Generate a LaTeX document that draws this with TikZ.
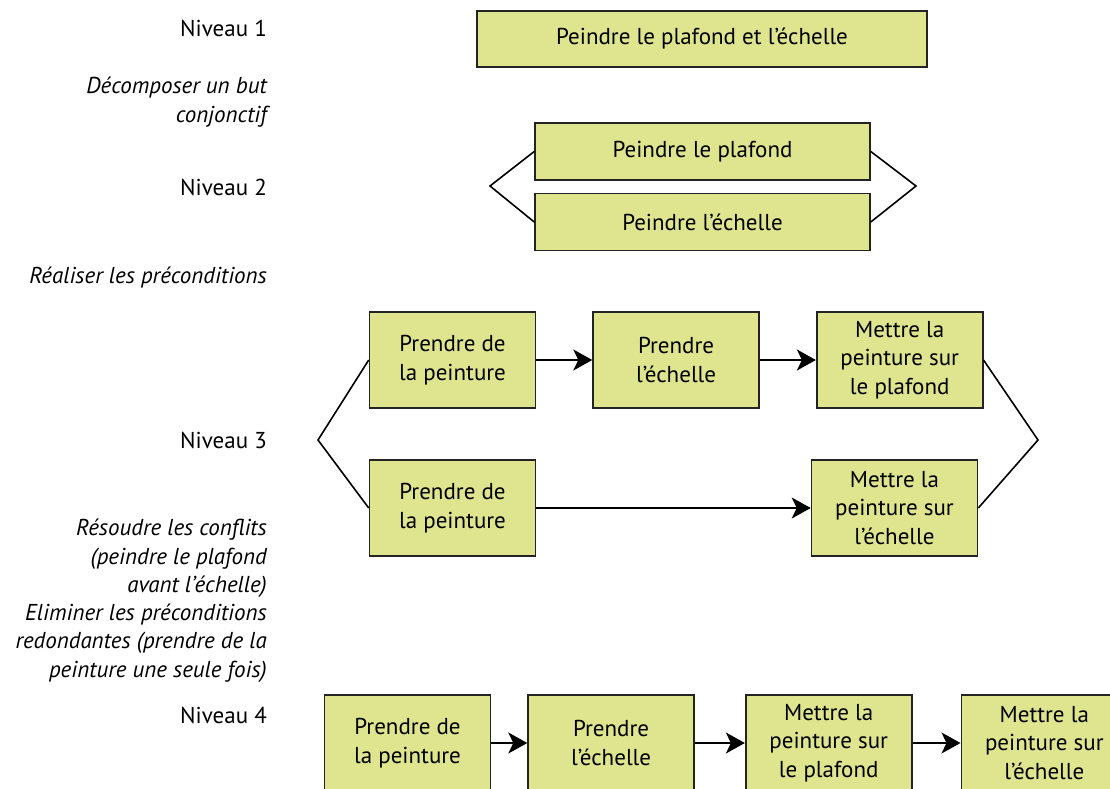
\documentclass[tikz,border=0pt]{standalone}
\usepackage{fontspec}
\setmainfont{PT Sans}
\usetikzlibrary{arrows.meta,positioning}
\definecolor{boxgreen}{RGB}{222,229,142}
\definecolor{boxline}{RGB}{35,35,35}
\begin{document}
\begin{tikzpicture}[x=1pt,y=-1pt,font=\fontsize{23}{28.5}\selectfont,box/.style={draw=boxline,line width=1.6pt,fill=boxgreen,align=center,inner sep=0pt,minimum width=166pt,minimum height=96pt},lvl/.style={anchor=east,align=right,inner sep=0pt},note/.style={lvl,font=\fontsize{23}{28.5}\selectfont\itshape},arr/.style={-{Stealth[length=19pt,width=21pt,inset=5pt]},line width=1.6pt},brk/.style={line width=1.6pt}]
\useasboundingbox (0,0) rectangle (1110,789);
% left column
\node[lvl] (n1) at (267,28) {Niveau 1};
\node[note] (t1) at (267,102) {Décomposer un but\\conjonctif};
\node[lvl] (n2) at (267,187) {Niveau 2};
\node[note] (t2) at (267,278) {Réaliser les préconditions};
\node[lvl] (n3) at (267,440) {Niveau 3};
\node[note] (t3) at (267,558.5) {Résoudre les conflits\\(peindre le plafond\\avant l’échelle)};
\node[note] (t4) at (267,643) {Eliminer les préconditions\\redondantes (prendre de la\\peinture une seule fois)};
\node[lvl] (n4) at (267,715) {Niveau 4};
% level 1 and 2
\node[box,minimum width=450pt,minimum height=56pt] (g1) at (702,39) {Peindre le plafond et l’échelle};
\node[box,minimum width=335pt,minimum height=57pt] (g2a) at (702.5,151.5) {Peindre le plafond};
\node[box,minimum width=335pt,minimum height=57pt] (g2b) at (702.5,222) {Peindre l’échelle};
\coordinate (l2w) at (490,186);\coordinate (l2e) at (916,186);
\draw[brk] (g2a.west)--(l2w)--(g2b.west);\draw[brk] (g2a.east)--(l2e)--(g2b.east);
% level 3
\node[box] (a1) at (452.5,360) {Prendre de\\la peinture};
\node[box,right=56pt of a1] (a2) {Prendre\\l’échelle};
\node[box,right=56pt of a2] (a3) {Mettre la\\peinture sur\\le plafond};
\node[box] (b1) at (452.5,508) {Prendre de\\la peinture};
\node[box] (b3) at (894.5,508) {Mettre la\\peinture sur\\l’échelle};
\coordinate (l3w) at (318,440);\coordinate (l3e) at (1038,440);
\draw[arr] (a1)--(a2);\draw[arr] (a2)--(a3);\draw[arr] (b1)--(b3);
\draw[brk] (a1.west)--(l3w)--(b1.west);\draw[brk] (a3.east)--(l3e)--(b3.east);
% level 4
\node[box] (p1) at (407.5,743) {Prendre de\\la peinture};
\node[box,right=36pt of p1] (p2) {Prendre\\l’échelle};
\node[box,right=50pt of p2] (p3) {Mettre la\\peinture sur\\le plafond};
\node[box,right=48pt of p3] (p4) {Mettre la\\peinture sur\\l’échelle};
\draw[arr] (p1)--(p2);\draw[arr] (p2)--(p3);\draw[arr] (p3)--(p4);
\end{tikzpicture}
\end{document}
